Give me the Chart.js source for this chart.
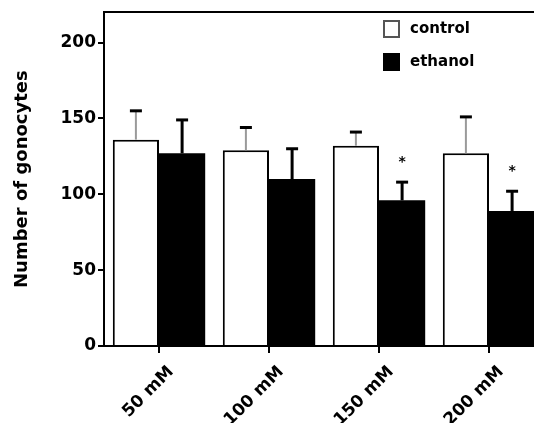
<!DOCTYPE html>
<html>
<head>
<meta charset="utf-8">
<script src="https://cdn.jsdelivr.net/npm/chart.js@4"></script>
<style>
  html, body { margin: 0; padding: 0; background: #fff; overflow: hidden; }
  #wrap { width: 552px; height: 423px; }
</style>
</head>
<body>
<div id="wrap"><canvas id="grafico" width="552" height="423"></canvas></div>
<script>
// dados
const categorias = ['50 mM', '100 mM', '150 mM', '200 mM'];
const controle = [136, 129, 132, 127];
const controleErro = [19, 15, 9, 24];
const etanol = [127, 110, 96, 89];
const etanolErro = [22, 20, 12, 13];
const significancia = ['', '', '*', '*'];
const ticksY = [0, 50, 100, 150, 200];

const fonte = '"DejaVu Sans", sans-serif';

// barras de erro (só a parte de cima) + asterisco
const pluginErro = {
    id: 'barrasErro',
    afterDatasetsDraw(chart) {
        const ctx = chart.ctx;
        const y = chart.scales.y;
        const series = [
            { erros: controleErro, medias: controle, haste: '#9a9a9a', largura: 2 },
            { erros: etanolErro, medias: etanol, haste: '#000', largura: 3 }
        ];
        series.forEach((s, i) => {
            const meta = chart.getDatasetMeta(i);
            meta.data.forEach((bar, j) => {
                const topo = y.getPixelForValue(s.medias[j] + s.erros[j]);
                const base = y.getPixelForValue(s.medias[j]);
                ctx.save();
                ctx.strokeStyle = s.haste;
                ctx.lineWidth = s.largura;
                ctx.beginPath();
                ctx.moveTo(bar.x, base);
                ctx.lineTo(bar.x, topo);
                ctx.stroke();
                ctx.strokeStyle = '#000';
                ctx.lineWidth = 3;
                ctx.beginPath();
                ctx.moveTo(bar.x - 6, topo);
                ctx.lineTo(bar.x + 6, topo);
                ctx.stroke();
                if (i === 1 && significancia[j]) {
                    ctx.fillStyle = '#000';
                    ctx.font = 'bold 14px ' + fonte;
                    ctx.textAlign = 'center';
                    ctx.textBaseline = 'middle';
                    ctx.fillText(significancia[j], bar.x, topo - 20);
                }
                ctx.restore();
            });
        });
    }
};

// legenda desenhada à mão no canto superior direito
const pluginLegenda = {
    id: 'legenda',
    afterDraw(chart) {
        const ctx = chart.ctx;
        const itens = chart.data.datasets;
        ctx.save();
        itens.forEach((d, i) => {
            const x = 384, yy = 21 + i * 33;
            ctx.fillStyle = d.backgroundColor;
            ctx.fillRect(x, yy, 15, 16);
            ctx.strokeStyle = i === 0 ? '#555' : '#000';
            ctx.lineWidth = 2;
            ctx.strokeRect(x, yy, 15, 16);
            ctx.fillStyle = '#000';
            ctx.font = 'bold 15px ' + fonte;
            ctx.textAlign = 'left';
            ctx.textBaseline = 'middle';
            ctx.fillText(d.label, x + 26, yy + 8);
        });
        ctx.restore();
    }
};

new Chart(document.getElementById('grafico'), {
    type: 'bar',
    data: {
        labels: categorias,
        datasets: [
            {
                label: 'control',
                data: controle,
                backgroundColor: '#ffffff',
                borderColor: '#000',
                borderWidth: 2,
                barPercentage: 1,
                categoryPercentage: 0.84
            },
            {
                label: 'ethanol',
                data: etanol,
                backgroundColor: '#000000',
                borderColor: '#000',
                borderWidth: 0,
                barPercentage: 1,
                categoryPercentage: 0.84
            }
        ]
    },
    options: {
        responsive: false,
        animation: false,
        layout: { padding: { top: 8, right: 8, left: 12, bottom: 0 } },
        plugins: { legend: { display: false }, tooltip: { enabled: false } },
        scales: {
            x: {
                grid: { display: true, drawOnChartArea: false, offset: false, tickLength: 7, color: '#000', lineWidth: 2 },
                border: { display: true, color: '#000', width: 2 },
                ticks: {
                    color: '#000',
                    font: { family: fonte, size: 17, weight: 'bold' },
                    minRotation: 45,
                    maxRotation: 45,
                    padding: 9,
                    labelOffset: 12
                },
                afterFit(scale) { scale.height = 77; }
            },
            topo: {
                position: 'top',
                grid: { display: false },
                border: { display: true, color: '#000', width: 2 },
                ticks: { display: false },
                afterFit(scale) { scale.height = 0; }
            },
            y: {
                min: 0,
                max: 220,
                afterBuildTicks(scale) { scale.ticks = ticksY.map(v => ({ value: v })); },
                grid: { display: true, drawOnChartArea: false, tickLength: 6, color: '#000', lineWidth: 2 },
                border: { display: true, color: '#000', width: 2 },
                ticks: {
                    color: '#000',
                    font: { family: fonte, size: 17, weight: 'bold' },
                    padding: 2
                },
                title: {
                    display: true,
                    text: 'Number of gonocytes',
                    color: '#000',
                    font: { family: fonte, size: 18, weight: 'bold' },
                    padding: { top: 0, bottom: 8 }
                },
                afterFit(scale) { scale.width = 92; }
            }
        }
    },
    plugins: [pluginErro, pluginLegenda]
});
</script>
</body>
</html>
